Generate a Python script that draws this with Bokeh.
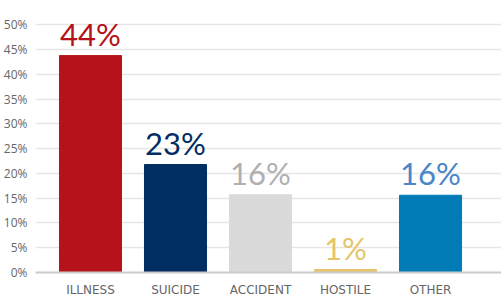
from bokeh.plotting import figure
from bokeh.models import ColumnDataSource, Range1d, FixedTicker
from bokeh.core.properties import value
from bokeh.embed import file_html
from bokeh.resources import INLINE

categories = ["ILLNESS", "SUICIDE", "ACCIDENT", "HOSTILE", "OTHER"]
bar_values = [43.8, 21.8, 15.7, 0.6, 15.6]
labels = ["44%", "23%", "16%", "1%", "16%"]
bar_colors = ["#B5121B", "#002D62", "#DADADA", "#E6C46A", "#007BB6"]
label_colors = ["#B5121B", "#002D62", "#B0B0B0", "#E6C46A", "#4A86C8"]
y_ticks = [0, 5, 10, 15, 20, 25, 30, 35, 40, 45, 50]

xs = list(range(len(categories)))
src = ColumnDataSource(dict(x=xs, top=bar_values, color=bar_colors,
                            label=labels, lcolor=label_colors))

p = figure(frame_width=466, frame_height=258, output_backend="svg",
           toolbar_location=None,
           x_range=Range1d(-0.647, 4.835), y_range=Range1d(0, 52.1),
           min_border_left=0, min_border_right=0, min_border_top=14,
           min_border_bottom=0)
p.outline_line_color = None
p.background_fill_color = "white"
p.border_fill_color = "white"

p.vbar(x="x", top="top", bottom=0, width=0.73, color="color", source=src)
p.text(x="x", y="top", text="label", text_color="lcolor", source=src,
       text_align="center", text_baseline="bottom", y_offset=-3,
       text_font=value("Lato"), text_font_size="31px")

p.xgrid.grid_line_color = None
p.ygrid.grid_line_color = "#E6E6E6"
p.ygrid.grid_line_width = 1.5
p.ygrid.ticker = FixedTicker(ticks=y_ticks[1:])

p.yaxis.ticker = FixedTicker(ticks=y_ticks)
p.yaxis.major_label_overrides = {t: f"{t}%" for t in y_ticks}
p.yaxis.axis_line_color = None
p.yaxis.major_tick_line_color = None
p.yaxis.minor_tick_line_color = None
p.yaxis.major_label_standoff = 2
p.yaxis.major_label_text_font = "Open Sans"
p.yaxis.major_label_text_font_size = "12px"
p.yaxis.major_label_text_color = "#666666"

p.xaxis.ticker = FixedTicker(ticks=xs)
p.xaxis.major_label_overrides = {i: c for i, c in zip(xs, categories)}
p.xaxis.axis_line_color = "#CCCCCC"
p.xaxis.axis_line_width = 2
p.xaxis.major_tick_line_color = None
p.xaxis.minor_tick_line_color = None
p.xaxis.major_label_standoff = 4
p.xaxis.major_label_text_font = "DejaVu Sans"
p.xaxis.major_label_text_font_size = "12px"
p.xaxis.major_label_text_color = "#666666"

open("out.html", "w").write(file_html(p, INLINE))
